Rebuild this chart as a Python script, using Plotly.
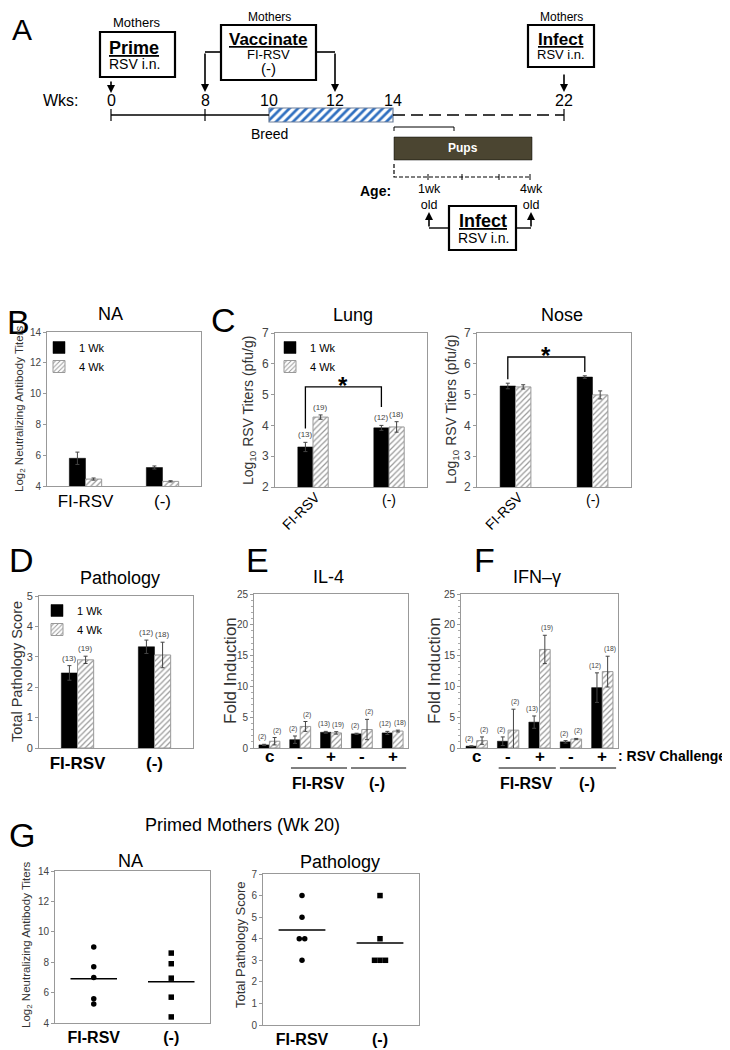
import numpy as np
import plotly.graph_objects as go

# the page body keeps its default 8px margin, so the figure is drawn 8px in
# from the top-left corner; positions below are given in page pixels
OFF = 8
FW, FH = 730 - OFF, 1050 - OFF
SANS = "Liberation Sans, Arial, sans-serif"
NARROW = "Liberation Sans Narrow, Liberation Sans, sans-serif"

# ---------------- data ----------------
weeks = ["0", "8", "10", "12", "14", "22"]

groups = ["FI-RSV", "(-)"]
n_1wk = ["(13)", "(12)"]
n_4wk = ["(19)", "(18)"]

na_1wk, na_1wk_err = [5.8, 5.2], [0.4, 0.1]
na_4wk, na_4wk_err = [4.45, 4.3], [0.07, 0.04]

lung_1wk, lung_1wk_err = [3.3, 3.92], [0.15, 0.08]
lung_4wk, lung_4wk_err = [4.27, 3.95], [0.07, 0.17]

nose_1wk, nose_1wk_err = [5.28, 5.57], [0.09, 0.04]
nose_4wk, nose_4wk_err = [5.25, 4.99], [0.07, 0.13]

path_1wk, path_1wk_err = [2.47, 3.33], [0.24, 0.22]
path_4wk, path_4wk_err = [2.9, 3.06], [0.12, 0.42]

cyto_cats = ["c", "FI-RSV -", "FI-RSV +", "(-) -", "(-) +"]
cyto_ticks = ["c", "-", "+", "-", "+"]
cyto_n_1wk = ["(2)", "(2)", "(13)", "(2)", "(12)"]
cyto_n_4wk = ["(2)", "(2)", "(19)", "(2)", "(18)"]

il4_1wk, il4_1wk_err = [0.5, 1.35, 2.55, 2.3, 2.45], [0.1, 0.6, 0.15, 0.1, 0.25]
il4_4wk, il4_4wk_err = [1.1, 3.5, 2.45, 3.0, 2.75], [0.6, 0.8, 0.2, 1.65, 0.15]

ifn_1wk, ifn_1wk_err = [0.3, 1.1, 4.2, 1.0, 9.8], [0.05, 0.7, 1.0, 0.2, 2.4]
ifn_4wk, ifn_4wk_err = [1.2, 2.9, 16.0, 1.45, 12.4], [0.6, 3.4, 2.3, 0.1, 2.5]

mom_na_fi = [9.0, 7.7, 7.0, 5.6, 5.25]
mom_na_neg = [8.6, 7.9, 6.95, 5.7, 4.4]
mom_path_fi = [6, 5, 4, 4, 3]
mom_path_neg = [6, 4, 3, 3, 3]


def px(x):
    return (x - OFF) / FW


def py(y):
    return 1 - (y - OFF) / FH


fig = go.Figure()

# panel boxes in page pixels: left, right, top, bottom
boxes = {
    1: (47, 201, 332, 486),    # B NA
    2: (275, 427, 333, 487),   # C lung
    3: (477, 631, 333, 487),   # C nose
    4: (39, 193, 596, 748),    # D pathology
    5: (254, 408, 594, 748),   # E IL-4
    6: (461, 618, 594, 748),   # F IFN-g
    7: (55, 210, 871, 1023),   # G NA
    8: (263, 419, 874, 1025),  # G pathology
}

black_mk = dict(color="black", line=dict(color="black", width=0.5))
hatch_mk = dict(color="white", line=dict(color="#999", width=1),
                pattern=dict(shape="/", fgcolor="#999", bgcolor="white", size=4, solidity=0.3))


def sfx(i):
    return "" if i == 1 else str(i)


def bar_panel(i, cats, v1, e1, v4, e4, w, legend=None, n1=None, n4=None, nsize=8, spread_px=0):
    L, R, T, B = boxes[i]
    bar_px = w * (R - L) / len(cats)
    for vals, errs, name, off, mk, ns, shift in [
        (v1, e1, "1 Wk", -w, black_mk, n1, -bar_px / 2 - spread_px),
        (v4, e4, "4 Wk", 0, hatch_mk, n4, bar_px / 2 + spread_px),
    ]:
        fig.add_trace(go.Bar(
            x=cats, y=vals, width=w, offset=off, name=name, marker=mk,
            error_y=dict(type="data", array=errs, visible=True, color="#444", thickness=1, width=2),
            xaxis="x" + sfx(i), yaxis="y" + sfx(i),
            showlegend=legend is not None, legend=legend if legend else "legend",
        ))
        if ns:
            for c, v, e, t in zip(cats, vals, errs, ns):
                fig.add_annotation(x=c, y=v + e, xref="x" + sfx(i), yref="y" + sfx(i), text=t,
                                   showarrow=False, xshift=shift, yshift=1, yanchor="bottom",
                                   font=dict(size=nsize, color="#444", family=SANS))


def set_axes(i, yrange, dtick, tsize, xkw, minor=False):
    L, R, T, B = boxes[i]
    base = dict(showline=True, mirror=True, linecolor="#999", linewidth=1,
                showgrid=False, zeroline=False, fixedrange=True)
    xk = dict(domain=[px(L), px(R)], anchor="y" + sfx(i), ticks="",
              tickfont=dict(size=17, family=SANS, color="black"), **base)
    xk.update(xkw)
    fig.layout["xaxis" + sfx(i)] = xk
    yk = dict(domain=[py(B), py(T)], anchor="x" + sfx(i), range=yrange, dtick=dtick,
              ticks="outside", ticklen=3, tickcolor="#999",
              tickfont=dict(size=tsize, family=SANS, color="#444"), **base)
    if minor:
        yk["minor"] = dict(ticks="outside", dtick=1, ticklen=2, tickcolor="#aaa")
    fig.layout["yaxis" + sfx(i)] = yk


# ---------------- B ----------------
bar_panel(1, groups, na_1wk, na_1wk_err, na_4wk, na_4wk_err, 0.21, legend="legend")
set_axes(1, [4, 14], 2, 10, dict(range=[-0.5, 1.5], tickvals=groups, ticktext=groups))

# ---------------- C ----------------
bar_panel(2, groups, lung_1wk, lung_1wk_err, lung_4wk, lung_4wk_err, 0.2, legend="legend2",
          n1=n_1wk, n4=n_4wk)
set_axes(2, [2, 7], 1, 12, dict(range=[-0.5, 1.5], showticklabels=False))
bar_panel(3, groups, nose_1wk, nose_1wk_err, nose_4wk, nose_4wk_err, 0.2)
set_axes(3, [2, 7], 1, 12, dict(range=[-0.5, 1.5], showticklabels=False))

# significance brackets (drawn at the 1 Wk bars)
for i, legs, top, star_y in [(2, (3.9, 4.6), 5.25, 5.3), (3, (5.5, 5.73), 6.22, 6.27)]:
    fig.add_shape(type="path", xref="x" + sfx(i), yref="y" + sfx(i),
                  path=f"M -0.1,{legs[0]} L -0.1,{top} L 0.9,{top} L 0.9,{legs[1]}",
                  line=dict(color="black", width=1.3))
    fig.add_annotation(x=0.4, y=star_y, xref="x" + sfx(i), yref="y" + sfx(i), text="<b>*</b>",
                       showarrow=False, yanchor="middle", font=dict(size=24, family=SANS, color="black"))

# ---------------- D ----------------
bar_panel(4, groups, path_1wk, path_1wk_err, path_4wk, path_4wk_err, 0.21, legend="legend3",
          n1=n_1wk, n4=n_4wk)
set_axes(4, [0, 5], 1, 11, dict(range=[-0.5, 1.5], tickvals=groups,
                                ticktext=[f"<b>{g}</b>" for g in groups]))

# ---------------- E / F ----------------
bar_panel(5, cyto_cats, il4_1wk, il4_1wk_err, il4_4wk, il4_4wk_err, 0.34,
          n1=cyto_n_1wk, n4=cyto_n_4wk, nsize=6.8, spread_px=2)
set_axes(5, [0, 25], 5, 10, dict(range=[-0.5, 4.5], showticklabels=False), minor=True)
bar_panel(6, cyto_cats, ifn_1wk, ifn_1wk_err, ifn_4wk, ifn_4wk_err, 0.34,
          n1=cyto_n_1wk, n4=cyto_n_4wk, nsize=6.8, spread_px=2)
set_axes(6, [0, 25], 5, 10, dict(range=[-0.5, 4.5], showticklabels=False), minor=True)

for i in (5, 6):
    for c, t in zip(cyto_cats, cyto_ticks):
        fig.add_annotation(x=c, y=py(756), xref="x" + sfx(i), yref="paper", text=f"<b>{t}</b>",
                           showarrow=False, yanchor="middle",
                           font=dict(size=17, family=SANS, color="black"))
    for x0, x1, lab, xc in [(0.7, 2.52, "FI-RSV", 1.6), (2.65, 4.44, "(-)", 3.5)]:
        fig.add_shape(type="line", xref="x" + sfx(i), yref="paper", x0=x0, x1=x1,
                      y0=py(768), y1=py(768), line=dict(color="black", width=1))
        fig.add_annotation(x=xc, y=py(783), xref="x" + sfx(i), yref="paper", text=f"<b>{lab}</b>",
                           showarrow=False, yanchor="middle",
                           font=dict(size=16, family=SANS, color="black"))


# ---------------- G ----------------
def spread(vals, center, step):
    xs = []
    for k, v in enumerate(vals):
        same = [j for j, u in enumerate(vals) if u == v]
        xs.append(center + (same.index(k) - (len(same) - 1) / 2) * step)
    return xs


for i, fi, neg in [(7, mom_na_fi, mom_na_neg), (8, mom_path_fi, mom_path_neg)]:
    for c, vals, sym in [(0, fi, "circle"), (1, neg, "square")]:
        fig.add_trace(go.Scatter(x=spread(vals, c, 0.07), y=vals, mode="markers",
                                 marker=dict(symbol=sym, size=5.5, color="black"),
                                 xaxis="x" + sfx(i), yaxis="y" + sfx(i), showlegend=False))
        m = float(np.mean(vals))
        fig.add_trace(go.Scatter(x=[c - 0.3, c + 0.3], y=[m, m], mode="lines",
                                 line=dict(color="black", width=1.5),
                                 xaxis="x" + sfx(i), yaxis="y" + sfx(i), showlegend=False))

g_ticks = dict(tickvals=[0, 1], ticktext=[f"<b>{g}</b>" for g in groups],
               tickfont=dict(size=16, family=SANS, color="black"))
set_axes(7, [4, 14], 2, 10, dict(range=[-0.5, 1.5], **g_ticks))
set_axes(8, [0, 7], 1, 10, dict(range=[-0.5, 1.5], **g_ticks))


# ---------------- text for panels B-G ----------------
def note(x, y, text, size, angle=0, color="black", family=SANS, xanchor="center"):
    fig.add_annotation(x=px(x), y=py(y), xref="paper", yref="paper", text=text, showarrow=False,
                       textangle=angle, xanchor=xanchor, yanchor="middle",
                       font=dict(size=size, color=color, family=family))


for lab, x, y in [("B", 18, 322), ("C", 223, 320), ("D", 21, 560), ("E", 257, 560),
                  ("F", 484, 560), ("G", 22, 835)]:
    note(x, y, lab, 34)

note(110, 314, "NA", 18)
note(353, 315, "Lung", 18)
note(562, 315, "Nose", 18)
note(120, 578, "Pathology", 18)
note(328, 577, "IL-4", 18)
note(537, 577, "IFN\u2013\u03b3", 18)
note(242, 825, "Primed Mothers (Wk 20)", 18)
note(130, 861, "NA", 18)
note(340, 862, "Pathology", 18)

note(20, 409, "Log<sub>2</sub> Neutralizing Antibody Titers", 11.5, angle=-90, color="#333")
note(249, 410, "Log<sub>10</sub> RSV Titers (pfu/g)", 14, angle=-90, color="#333")
note(452, 410, "Log<sub>10</sub> RSV Titers (pfu/g)", 14, angle=-90, color="#333")
note(17, 672, "Total Pathology Score", 14.5, angle=-90, color="#333")
note(230, 671, "Fold Induction", 17, angle=-90, color="#333")
note(434, 671, "Fold Induction", 17, angle=-90, color="#333")
note(27, 945, "Log<sub>2</sub> Neutralizing Antibody Titers", 11.5, angle=-90, color="#333")
note(240, 945, "Total Pathology Score", 13, angle=-90, color="#333")

for xc in (301, 504):
    note(xc, 511, "FI-RSV", 14, angle=-45)
for xc in (389, 593):
    note(xc, 500, "(-)", 14)
note(616, 756, "<b>: RSV Challenge</b>", 14, xanchor="left")

# ---------------- A: schematic (axis x9/y9 runs in page pixels) ----------------
wk_pos = [111, 205, 269, 335, 393, 564]
wx = dict(zip(weeks, wk_pos))
line_y = 115


def a_line(x0, y0, x1, y1, width=1.5, dash="solid"):
    fig.add_shape(type="line", xref="x9", yref="y9", x0=x0, y0=y0, x1=x1, y1=y1,
                  line=dict(color="black", width=width, dash=dash))


def a_rect(x0, y0, x1, y1, fill="white", width=2.2):
    fig.add_shape(type="rect", xref="x9", yref="y9", x0=x0, y0=y0, x1=x1, y1=y1,
                  fillcolor=fill, line=dict(color="black", width=width))


def a_text(x, y, text, size, family=NARROW, color="black", xanchor="center"):
    fig.add_annotation(x=x, y=y, xref="x9", yref="y9", text=text, showarrow=False,
                       xanchor=xanchor, yanchor="middle", font=dict(size=size, family=family, color=color))


def a_arrow(x, y, x0, y0):
    fig.add_annotation(x=x, y=y, ax=x0, ay=y0, xref="x9", yref="y9", axref="x9", ayref="y9",
                       text="", showarrow=True, arrowhead=2, arrowsize=1, arrowwidth=1.6,
                       arrowcolor="black")


a_text(22, 29, "A", 30, family=SANS)

# mothers: prime
a_text(136, 22, "Mothers", 13)
a_rect(100, 32, 175, 77)
a_text(134, 48, "<b><u>Prime</u></b>", 18)
a_text(134, 64, "RSV i.n.", 14)
a_arrow(wx["0"], 93, wx["0"], 80)

# mothers: vaccinate
a_text(269, 17, "Mothers", 12)
a_rect(221, 25, 316, 80)
a_text(268, 39, "<b><u>Vaccinate</u></b>", 17)
a_text(268, 54, "FI-RSV", 13)
a_text(268, 68, "(-)", 15)
a_line(221, 52, wx["8"], 52, width=1.6)
a_arrow(wx["8"], 92, wx["8"], 52)
a_line(316, 52, wx["12"], 52, width=1.6)
a_arrow(wx["12"], 92, wx["12"], 52)

# mothers: infect
a_text(561, 17, "Mothers", 12)
a_rect(528, 25, 594, 67)
a_text(561, 39, "<b><u>Infect</u></b>", 17)
a_text(561, 54, "RSV i.n.", 13)
a_arrow(wx["22"], 92, wx["22"], 73)

# timeline
a_text(61, 100, "Wks:", 16)
for w, xw in wx.items():
    a_text(xw, 100, w, 16)
a_line(wx["0"], line_y, wx["10"], line_y)
for w in ("0", "8", "22"):
    a_line(wx[w], line_y - 6, wx[w], line_y + 6, width=1.2)
a_line(wx["14"], line_y, wx["22"], line_y, width=1.6, dash="12px,6px")
fig.add_trace(go.Scatter(
    x=[wx["10"], wx["14"], wx["14"], wx["10"], wx["10"]],
    y=[line_y - 7, line_y - 7, line_y + 7, line_y + 7, line_y - 7],
    mode="lines", fill="toself", line=dict(color="#6d7f99", width=1.2),
    fillcolor="white", fillpattern=dict(shape="/", fgcolor="#2f6fc0", bgcolor="white", size=6, solidity=0.45),
    xaxis="x9", yaxis="y9", showlegend=False, hoverinfo="skip"))
a_text(wx["10"], 134, "Breed", 14)

# pups
fig.add_shape(type="path", xref="x9", yref="y9", path="M 394,131 L 394,127 L 454,127 L 454,131",
              line=dict(color="black", width=1))
a_rect(394, 137, 532, 160, fill="#4b4531", width=0.5)
a_text(463, 148, "<b>Pups</b>", 12, family=SANS, color="white")
fig.add_shape(type="path", xref="x9", yref="y9", path="M 394,164 L 394,177 L 530,177",
              line=dict(color="black", width=1.2, dash="4px,2px"))
for xt in (428, 462, 499, 530):
    a_line(xt, 174, xt, 180, width=1)
a_text(393, 191, "<b>Age:</b>", 14, xanchor="right")
for xa, lab in [(429, "1wk<br>old"), (531, "4wk<br>old")]:
    a_text(xa, 197, lab, 12.5)
a_rect(449, 206, 516, 250)
a_text(483, 221, "<b><u>Infect</u></b>", 18)
a_text(483, 238, "RSV i.n.", 14)
a_line(449, 228, 429, 228, width=1.4)
a_arrow(429, 212, 429, 228)
a_line(516, 228, 531, 228, width=1.4)
a_arrow(531, 212, 531, 228)

fig.update_layout(
    xaxis9=dict(domain=[0, 1], range=[OFF, OFF + FW], visible=False, fixedrange=True, anchor="y9"),
    yaxis9=dict(domain=[py(262), 1], range=[262, OFF], visible=False, fixedrange=True, anchor="x9"),
)

# ---------------- layout ----------------
leg = dict(xanchor="left", yanchor="top", bgcolor="rgba(0,0,0,0)", tracegroupgap=0,
           font=dict(size=11, family=SANS, color="black"), itemwidth=30)
fig.update_layout(
    template="none",
    width=FW, height=FH, margin=dict(l=0, r=0, t=0, b=0, pad=0, autoexpand=False),
    font=dict(family=SANS, color="black"),
    paper_bgcolor="white", plot_bgcolor="rgba(0,0,0,0)",
    barmode="overlay", showlegend=True,
    legend=dict(x=px(39), y=py(333), **leg),
    legend2=dict(x=px(270), y=py(333), **leg),
    legend3=dict(x=px(37), y=py(596), **leg),
)

fig.write_html("out.html")
